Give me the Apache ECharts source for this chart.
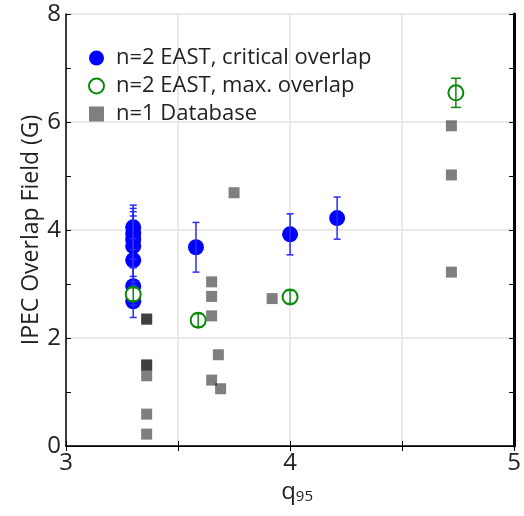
<!DOCTYPE html>
<html><head><meta charset="utf-8">
<script src="https://cdn.jsdelivr.net/npm/echarts@6/dist/echarts.min.js"></script>
<style>html,body{margin:0;padding:0;background:#fff}#c{width:524px;height:516px}</style>
</head><body><div id="c"></div>
<script>
const seriesNames = ['n=2 EAST, critical overlap', 'n=2 EAST, max. overlap', 'n=1 Database'];
const blueX = [3.30, 3.30, 3.30, 3.30, 3.30, 3.30, 3.30, 3.58, 4.00, 4.21];
const blueY = [4.05, 3.93, 3.82, 3.70, 3.44, 2.96, 2.68, 3.68, 3.92, 4.22];
const blueErr = [0.41, 0.47, 0.52, 0.56, 0.40, 0.35, 0.30, 0.46, 0.38, 0.39];
const greenX = [3.30, 3.59, 4.00, 4.74];
const greenY = [2.81, 2.33, 2.76, 6.54];
const greenErr = [0.12, 0.12, 0.12, 0.27];
const grayX = [3.36, 3.36, 3.36, 3.36, 3.36, 3.36, 3.36, 3.65, 3.65, 3.65, 3.75, 3.68, 3.65, 3.69, 3.92, 4.72, 4.72, 4.72];
const grayY = [2.35, 2.35, 1.50, 1.50, 1.30, 0.59, 0.22, 3.04, 2.77, 2.41, 4.69, 1.69, 1.22, 1.06, 2.73, 5.93, 5.02, 3.22];
const xTickLabels = ['3', '4', '5'];
const yTickLabels = ['0', '2', '4', '6', '8'];

const FONT = 'Open Sans';
const pts = (xs, ys) => xs.map((x, i) => [x, ys[i]]);
const errs = (xs, ys, es) => xs.map((x, i) => [x, ys[i] - es[i], ys[i] + es[i]]);

function errRender(color, cap) {
  return function (params, api) {
    const x = api.value(0), lo = api.value(1), hi = api.value(2);
    const a = api.coord([x, hi]), b = api.coord([x, lo]);
    const st = { stroke: color, lineWidth: 1.5 };
    return { type: 'group', children: [
      { type: 'line', shape: { x1: a[0], y1: a[1], x2: b[0], y2: b[1] }, style: st },
      { type: 'line', shape: { x1: a[0] - cap, y1: a[1], x2: a[0] + cap, y2: a[1] }, style: st },
      { type: 'line', shape: { x1: b[0] - cap, y1: b[1], x2: b[0] + cap, y2: b[1] }, style: st }
    ]};
  };
}

const chart = echarts.init(document.getElementById('c'));
chart.setOption({
  animation: false,
  backgroundColor: '#fff',
  grid: { left: 66, right: 6, top: 14, bottom: 70 },
  legend: {
    data: seriesNames, orient: 'vertical', left: 83, top: 42,
    itemWidth: 15, itemHeight: 15, itemGap: 6,
    textStyle: { fontFamily: FONT, fontSize: 22, lineHeight: 22, color: '#222', padding: [0, 0, 0, 7] }
  },
  xAxis: [{
    type: 'value', min: 3, max: 5, interval: 0.5,
    axisLine: { lineStyle: { color: '#000', width: 1.5 } },
    axisTick: { inside: true, length: 5, lineStyle: { color: '#000' } },
    axisLabel: { fontFamily: FONT, fontSize: 24, color: '#222', margin: 5,
      formatter: v => { const s = String(v); return xTickLabels.includes(s) ? s : ''; } },
    splitLine: { show: true, lineStyle: { color: '#e3e3e3', width: 1.5 } },
    name: '{q|q}{s|95}', nameLocation: 'middle', nameGap: 18,
    nameTextStyle: { padding: [0, 0, 0, 14], rich: { q: { fontFamily: FONT, fontSize: 24, color: '#222' }, s: { fontFamily: FONT, fontSize: 15, color: '#222', verticalAlign: 'bottom', padding: [10, 0, 0, 0] } } }
  }, {
    type: 'value', min: 3, max: 5, interval: 0.5, position: 'top',
    axisLine: { show: true, lineStyle: { color: '#000', width: 1 } },
    axisTick: { show: true, inside: true, length: 5, lineStyle: { color: '#000' } },
    axisLabel: { show: false }, splitLine: { show: false }
  }],
  yAxis: [{
    type: 'value', min: 0, max: 8, interval: 2,
    axisLine: { show: true, lineStyle: { color: '#000', width: 1.5 } },
    axisTick: { show: true, inside: true, length: 5, lineStyle: { color: '#000' } },
    minorTick: { show: true, splitNumber: 2, length: 5, lineStyle: { color: '#000' } },
    axisLabel: { fontFamily: FONT, fontSize: 24, color: '#222', margin: 5,
      formatter: v => { const s = String(v); return yTickLabels.includes(s) ? s : ''; } },
    splitLine: { show: true, lineStyle: { color: '#e3e3e3', width: 1.5 } },
    name: 'IPEC Overlap Field (G)', nameLocation: 'middle', nameGap: 23, nameMoveOverlap: false,
    nameTextStyle: { fontFamily: FONT, fontSize: 23, color: '#222' }
  }, {
    type: 'value', min: 0, max: 8, interval: 2, position: 'right',
    axisLine: { show: true, lineStyle: { color: '#000', width: 3 } },
    axisTick: { show: true, inside: true, length: 5, lineStyle: { color: '#000' } },
    minorTick: { show: true, splitNumber: 2, length: 5, lineStyle: { color: '#000' } },
    axisLabel: { show: false }, splitLine: { show: false }
  }],
  series: [
    { name: seriesNames[2], type: 'scatter', symbol: 'rect', symbolSize: 11,
      itemStyle: { color: 'rgba(0,0,0,0.5)', opacity: 1 }, data: pts(grayX, grayY), z: 2 },
    { name: seriesNames[0], type: 'scatter', symbol: 'circle', symbolSize: 16,
      itemStyle: { color: '#0000ff', opacity: 1 }, data: pts(blueX, blueY), z: 3 },
    { name: 'blueErr', type: 'custom', renderItem: errRender('#2a2aff', 3.5),
      encode: { x: 0, y: [1, 2] }, data: errs(blueX, blueY, blueErr), z: 4, silent: true },
    { name: seriesNames[1], type: 'scatter', symbol: 'circle', symbolSize: 15,
      itemStyle: { color: '#fff', borderColor: '#0a8a0a', borderWidth: 2, opacity: 1 }, data: pts(greenX, greenY), z: 5 },
    { name: 'greenErr', type: 'custom', renderItem: errRender('#0a8a0a', 5),
      encode: { x: 0, y: [1, 2] }, data: errs(greenX, greenY, greenErr), z: 6, silent: true }
  ]
});
</script></body></html>
